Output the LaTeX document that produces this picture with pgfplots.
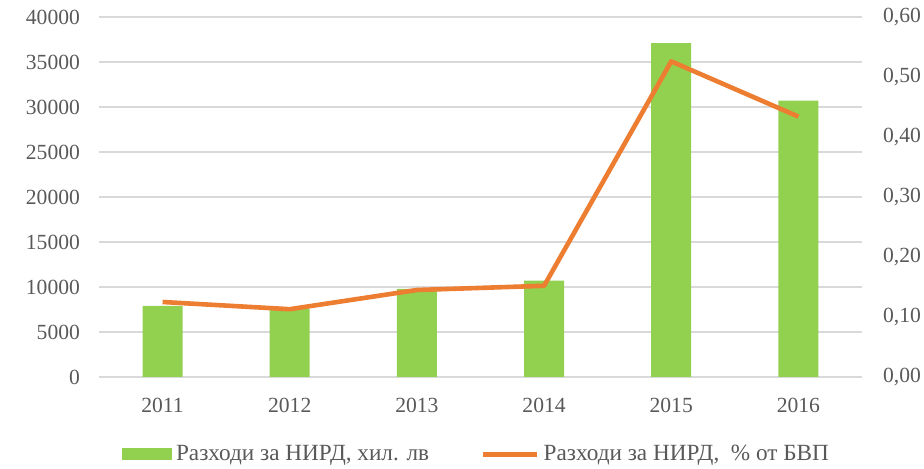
\documentclass[border=0pt]{standalone}
\usepackage{fontspec}
\setmainfont{Liberation Serif}
\usepackage{pgfplots}
\pgfplotsset{compat=1.18}

\definecolor{barGreen}{HTML}{92D050}
\definecolor{lineOrange}{HTML}{ED7D31}
\definecolor{txtGray}{HTML}{595959}
\definecolor{gridGray}{HTML}{D9D9D9}

\begin{document}
\begin{tikzpicture}
\useasboundingbox (-49.5pt,-46pt) rectangle (412.5pt,188.5pt);
\pgfplotsset{
    every axis/.append style={
        scale only axis,
        width=381.5pt, height=180pt,
        xmin=-0.5, xmax=5.5,
        font=\fontsize{10.8}{13}\selectfont,
        tick label style={text=txtGray},
        major tick length=0pt,
        /pgf/number format/assume math mode=true,
    },
}
\begin{axis}[
    axis x line*=bottom,
    axis y line*=left,
    x axis line style={draw=gridGray, -},
    y axis line style={draw=none},
    ymin=0, ymax=40000,
    ytick={0,5000,...,40000},
    scaled y ticks=false,
    yticklabel style={/pgf/number format/1000 sep={}, xshift=-6pt},
    ymajorgrids,
    grid style={draw=gridGray, line width=0.6pt},
    xtick={0,...,5},
    xticklabels={2011,2012,2013,2014,2015,2016},
    xticklabel style={yshift=-7pt},
]
\addplot[ybar, bar width=20pt, fill=barGreen, draw=none] coordinates {
    (0,7900) (1,7600) (2,9800) (3,10700) (4,37100) (5,30700)
};
\end{axis}
\begin{axis}[
    axis x line=none,
    axis y line*=right,
    y axis line style={draw=none},
    ymin=0, ymax=0.6,
    ytick={0,0.1,...,0.6},
    yticklabel style={/pgf/number format/.cd, fixed, fixed zerofill, precision=2, use comma, /tikz/.cd, xshift=7pt},
    legend style={
        at={(0.03,-0.215)}, anchor=west,
        draw=none, fill=none, inner sep=0pt,
        legend columns=2,
        /tikz/every even column/.append style={column sep=24pt},
        nodes={inner xsep=2pt},
        font=\fontsize{11.6}{13}\selectfont,
        text=txtGray,
    },
]
\addlegendimage{legend image code/.code={\fill[barGreen] (0pt,-2.75pt) rectangle (24.5pt,2.75pt);}}
\addlegendentry{Разходи за НИРД, хил. лв}
\addplot[color=lineOrange, line width=2.3pt, line join=round,
    legend image code/.code={\draw[lineOrange, line width=2.3pt] (0pt,0pt) -- (27pt,0pt);}]
    coordinates {
    (0,0.125) (1,0.113) (2,0.145) (3,0.152) (4,0.526) (5,0.434)
};
\addlegendentry{Разходи за НИРД,\ \ \% от БВП}
\end{axis}
\end{tikzpicture}
\end{document}
